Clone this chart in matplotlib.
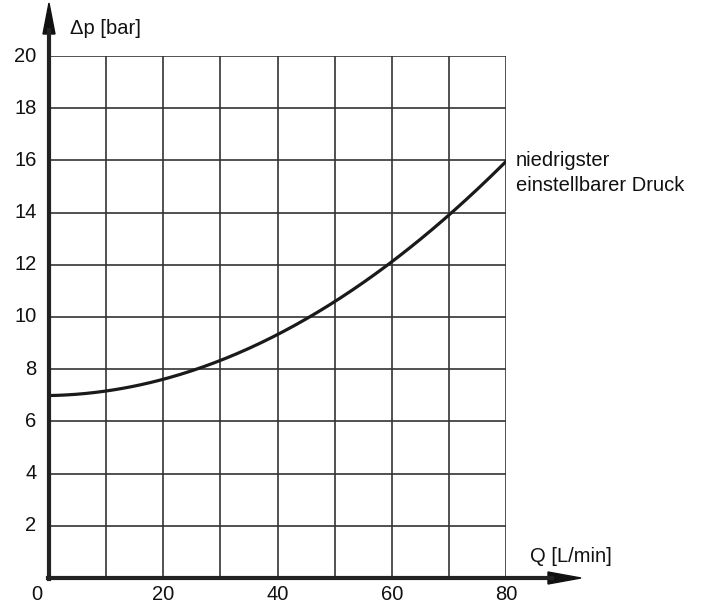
import matplotlib
matplotlib.use("Agg")
import matplotlib.pyplot as plt
import numpy as np

plt.rcParams['font.family'] = ['Liberation Sans', 'DejaVu Sans']

# Data
flow = [0, 10, 20, 30, 40, 50, 60, 70, 80]            # Q [L/min]
dp = [7.0, 7.15, 7.6, 8.35, 9.35, 10.6, 12.05, 13.95, 15.95]  # Δp [bar]
x_ticks = [20, 40, 60, 80]
y_ticks = [2, 4, 6, 8, 10, 12, 14, 16, 18, 20]
curve_label = "niedrigster\neinstellbarer Druck"

W, H = 704, 607
fig = plt.figure(figsize=(W / 100, H / 100), dpi=100)
ax = fig.add_axes([49 / W, 1 - 578 / H, (506 - 49) / W, (578 - 56) / H])
ax.set_xlim(0, 80)
ax.set_ylim(0, 20)

# grid
for gx in range(10, 81, 10):
    ax.axvline(gx, color='#333333', lw=1.2, zorder=1)
for gy in range(2, 21, 2):
    ax.axhline(gy, color='#333333', lw=1.2, zorder=1)

for s in ax.spines.values():
    s.set_visible(False)
ax.set_xticks([])
ax.set_yticks([])

# smooth curve through read points
xs = np.linspace(0, 80, 200)
coef = np.polyfit(flow, dp, 3)
ax.plot(xs, np.polyval(coef, xs), color='#1a1a1a', lw=2.3, zorder=3)

def fx(px):
    return px / W
def fy(py):
    return 1 - py / H

# axes with arrows
fig.add_artist(plt.Line2D([fx(49), fx(49)], [fy(579), fy(30)], color='#222222', lw=3))
fig.add_artist(plt.Line2D([fx(48), fx(552)], [fy(578), fy(578)], color='#222222', lw=3))
fig.add_artist(plt.Polygon([[fx(43), fy(34)], [fx(55), fy(34)], [fx(49), fy(3)]],
                           closed=True, color='#111111'))
fig.add_artist(plt.Polygon([[fx(548), fy(572)], [fx(548), fy(584)], [fx(581), fy(578)]],
                           closed=True, color='#111111'))

fs = 14.5
for t in y_ticks:
    ax.text(-2.2, t, str(t), ha='right', va='center', fontsize=fs, color='#111111')
for t in x_ticks:
    fig.text(fx(49 + t * (506 - 49) / 80), fy(595), str(t), ha='center', va='center',
             fontsize=fs, color='#111111')
fig.text(fx(37), fy(595), "0", ha='center', va='center', fontsize=fs, color='#111111')

fig.text(fx(70), fy(28), "Δp [bar]", ha='left', va='center', fontsize=fs, color='#111111')
fig.text(fx(530), fy(556), "Q [L/min]", ha='left', va='center', fontsize=fs, color='#111111')
fig.text(fx(516), fy(173), curve_label, ha='left', va='center', fontsize=fs,
         color='#111111', linespacing=1.45)

fig.savefig("out.png", dpi=100)
